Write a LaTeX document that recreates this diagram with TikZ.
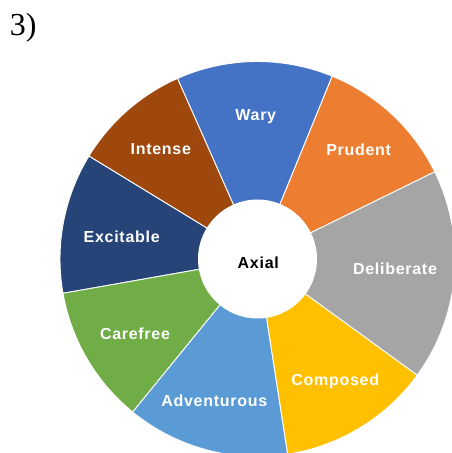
\documentclass[tikz,border=0pt]{standalone}
\usepackage{fontspec}
\setmainfont{Liberation Sans}
\newfontfamily\numfont{Liberation Serif}
\newfontfamily\lblfont[LetterSpace=4.5]{Liberation Sans}
\definecolor{cWary}{HTML}{4472C4}
\definecolor{cPrudent}{HTML}{ED7D31}
\definecolor{cDeliberate}{HTML}{A5A5A5}
\definecolor{cComposed}{HTML}{FFC000}
\definecolor{cAdventurous}{HTML}{5B9BD5}
\definecolor{cCarefree}{HTML}{70AD47}
\definecolor{cExcitable}{HTML}{264478}
\definecolor{cIntense}{HTML}{9E480E}

\begin{document}
\begin{tikzpicture}[x=1pt, y=1pt,
    slice/.style={draw=white, line width=0.9pt},
    lbl/.style={text=white, inner sep=0pt, text height=11.6pt, text depth=0pt,
      font=\lblfont\bfseries\fontsize{16}{18}\selectfont}]
  \useasboundingbox (0,0) rectangle (452,453);
  \clip (0,0) rectangle (452,453);
  \coordinate (O) at (257.5,194);
  % slices: start/end angle, colour, label position
  \foreach \a/\b/\n/\x/\y in {26.2/67.8/Prudent/358.7/303.7,
      67.8/113.9/Wary/255.8/338.7,
      113.9/148.6/Intense/160.8/304.3,
      148.6/190/Excitable/121.7/216,
      190/230.8/Carefree/135/119.2,
      230.8/278.8/Adventurous/214.3/52.3,
      278.8/324/Composed/335.3/73,
      -36/26.2/Deliberate/395/184.7} {
    \fill[c\n, slice] (O) -- ++(\a:197.5pt) arc[start angle=\a, end angle=\b, radius=197.5pt] -- cycle;
    \node[lbl] (\n) at (\x,\y) {\n};
  }
  \fill[white] (O) circle[radius=59.5pt];
  \node[lbl, text=black] (axial) at (258.3,190.2) {Axial};
  \node[inner sep=0pt, font=\numfont\fontsize{32}{34}\selectfont] (num) at (23.3,425.5) {3)};
\end{tikzpicture}
\end{document}
